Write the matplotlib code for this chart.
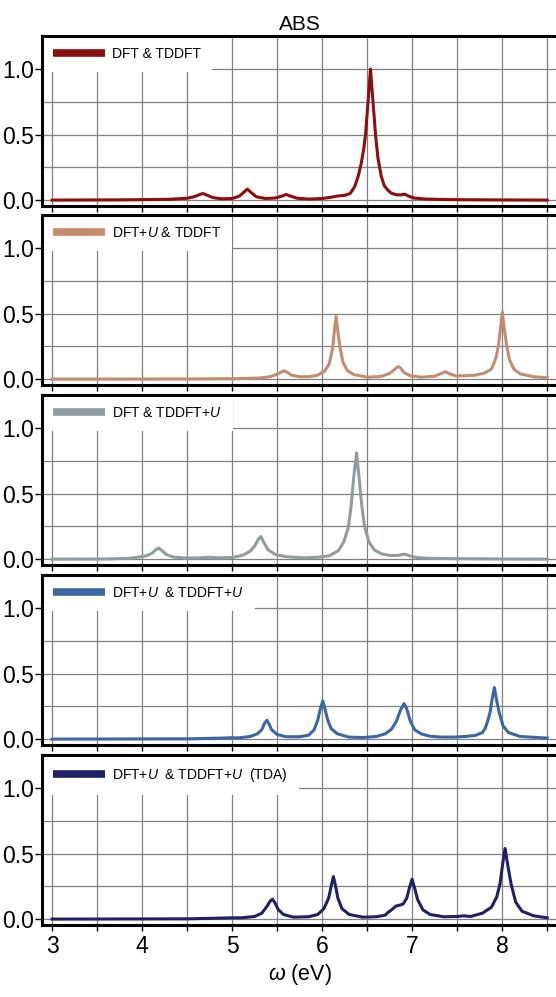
import matplotlib
matplotlib.use("Agg")
import matplotlib.pyplot as plt
from matplotlib.ticker import MultipleLocator

plt.rcParams['font.family'] = ['Liberation Sans', 'DejaVu Sans']
plt.rcParams['mathtext.fontset'] = 'custom'
plt.rcParams['mathtext.rm'] = 'Liberation Sans'
plt.rcParams['mathtext.it'] = 'Liberation Sans:italic'

title = "ABS"
xlabel = r"$\omega$ (eV)"
xticks = [3, 4, 5, 6, 7, 8]
yticks = [0.0, 0.5, 1.0]

labels = [
    "DFT & TDDFT",
    "DFT+$U$ & TDDFT",
    "DFT & TDDFT+$U$",
    "DFT+$U$  & TDDFT+$U$",
    "DFT+$U$  & TDDFT+$U$  (TDA)",
]
colors = ["#8E0D0D", "#C48C6E", "#8F9DA3", "#3B67A5", "#1E2069"]

# Panel 1: DFT & TDDFT
x1 = [3.0, 3.8, 4.3, 4.5, 4.58, 4.63, 4.676, 4.72, 4.78, 4.88, 5.0, 5.08, 5.13, 5.17, 5.21, 5.27,
      5.37, 5.48, 5.55, 5.60, 5.65, 5.72, 5.85, 6.0, 6.1, 6.18, 6.25, 6.31, 6.36, 6.40, 6.434, 6.46,
      6.482, 6.51, 6.537, 6.565, 6.593, 6.62, 6.657, 6.69, 6.731, 6.77, 6.83, 6.88, 6.916, 6.96,
      7.02, 7.15, 7.4, 7.8, 8.5]
y1 = [0.0, 0.002, 0.006, 0.014, 0.026, 0.040, 0.051, 0.038, 0.020, 0.010, 0.012, 0.030, 0.060, 0.084,
      0.058, 0.025, 0.012, 0.016, 0.030, 0.043, 0.030, 0.015, 0.008, 0.012, 0.022, 0.032, 0.036, 0.05,
      0.10, 0.18, 0.28, 0.38, 0.5, 0.75, 1.0, 0.75, 0.5, 0.32, 0.18, 0.11, 0.075, 0.052, 0.040, 0.040,
      0.046, 0.030, 0.016, 0.008, 0.004, 0.002, 0.0]

# Panel 2: DFT+U & TDDFT
x2 = [3.0, 4.5, 5.0, 5.3, 5.42, 5.5, 5.55, 5.579, 5.61, 5.66, 5.75, 5.85, 5.95, 6.03, 6.08, 6.118,
      6.135, 6.155, 6.175, 6.2, 6.23, 6.28, 6.35, 6.5, 6.65, 6.74, 6.8, 6.83, 6.85, 6.87, 6.91, 6.98,
      7.1, 7.25, 7.32, 7.37, 7.41, 7.48, 7.585, 7.7, 7.8, 7.88, 7.93, 7.958, 7.982, 8.002, 8.022,
      8.05, 8.08, 8.13, 8.2, 8.35, 8.5]
y2 = [0.0, 0.001, 0.003, 0.008, 0.018, 0.038, 0.055, 0.063, 0.052, 0.030, 0.018, 0.018, 0.030, 0.062,
      0.12, 0.24, 0.36, 0.477, 0.36, 0.24, 0.13, 0.065, 0.035, 0.015, 0.020, 0.040, 0.070, 0.088, 0.096,
      0.085, 0.050, 0.025, 0.015, 0.022, 0.042, 0.056, 0.042, 0.025, 0.025, 0.030, 0.045, 0.075, 0.16,
      0.256, 0.39, 0.51, 0.39, 0.256, 0.15, 0.075, 0.04, 0.018, 0.01]

# Panel 3: DFT & TDDFT+U
x3 = [3.0, 3.6, 3.85, 3.95, 4.02, 4.056, 4.11, 4.15, 4.185, 4.22, 4.27, 4.35, 4.5, 4.65, 4.742, 4.85,
      5.0, 5.12, 5.2, 5.25, 5.29, 5.319, 5.35, 5.4, 5.48, 5.6, 5.8, 5.95, 6.08, 6.18, 6.24, 6.29,
      6.322, 6.35, 6.382, 6.41, 6.441, 6.47, 6.52, 6.58, 6.66, 6.75, 6.84, 6.916, 6.97, 7.05, 7.2,
      7.5, 8.0, 8.5]
y3 = [0.0, 0.001, 0.006, 0.014, 0.022, 0.027, 0.045, 0.070, 0.084, 0.065, 0.035, 0.015, 0.008, 0.010,
      0.014, 0.010, 0.012, 0.03, 0.06, 0.10, 0.15, 0.172, 0.13, 0.07, 0.035, 0.018, 0.010, 0.014, 0.025,
      0.065, 0.13, 0.24, 0.405, 0.62, 0.81, 0.62, 0.405, 0.25, 0.13, 0.07, 0.04, 0.028, 0.028, 0.038,
      0.025, 0.012, 0.006, 0.003, 0.001, 0.0]

# Panel 4: DFT+U & TDDFT+U
x4 = [3.0, 4.5, 4.9, 4.98, 5.08, 5.2, 5.28, 5.33, 5.36, 5.386, 5.41, 5.438, 5.5, 5.6, 5.75, 5.85,
      5.91, 5.951, 5.98, 6.007, 6.035, 6.062, 6.1, 6.17, 6.3, 6.45, 6.6, 6.7, 6.77, 6.824, 6.87, 6.91,
      6.94, 6.98, 7.03, 7.1, 7.2, 7.3, 7.45, 7.585, 7.7, 7.78, 7.81, 7.84, 7.864, 7.89, 7.913, 7.94,
      7.968, 8.01, 8.07, 8.2, 8.5]
y4 = [0.0, 0.002, 0.008, 0.010, 0.010, 0.02, 0.04, 0.072, 0.12, 0.144, 0.115, 0.072, 0.035, 0.018,
      0.018, 0.03, 0.07, 0.145, 0.23, 0.291, 0.22, 0.145, 0.08, 0.04, 0.015, 0.012, 0.02, 0.04, 0.075,
      0.135, 0.22, 0.271, 0.23, 0.135, 0.07, 0.04, 0.022, 0.016, 0.015, 0.02, 0.028, 0.05, 0.08, 0.14,
      0.2, 0.31, 0.393, 0.29, 0.2, 0.10, 0.05, 0.02, 0.008]

# Panel 5: DFT+U & TDDFT+U (TDA)
x5 = [3.0, 4.5, 4.9, 5.0, 5.1, 5.25, 5.33, 5.39, 5.42, 5.449, 5.475, 5.51, 5.57, 5.68, 5.85, 5.95,
      6.02, 6.073, 6.1, 6.125, 6.15, 6.174, 6.22, 6.3, 6.45, 6.6, 6.7, 6.73, 6.77, 6.82, 6.86, 6.9,
      6.94, 6.97, 6.999, 7.03, 7.06, 7.12, 7.2, 7.35, 7.5, 7.567, 7.65, 7.78, 7.88, 7.94, 7.976,
      8.005, 8.032, 8.06, 8.098, 8.15, 8.22, 8.35, 8.5]
y5 = [0.0, 0.002, 0.008, 0.010, 0.010, 0.02, 0.045, 0.10, 0.135, 0.152, 0.125, 0.075, 0.035, 0.015,
      0.018, 0.035, 0.08, 0.162, 0.25, 0.324, 0.25, 0.162, 0.08, 0.035, 0.015, 0.018, 0.03, 0.05,
      0.07, 0.1, 0.106, 0.115, 0.16, 0.24, 0.304, 0.23, 0.15, 0.07, 0.035, 0.018, 0.02, 0.025, 0.02,
      0.045, 0.09, 0.17, 0.27, 0.42, 0.539, 0.42, 0.27, 0.13, 0.06, 0.025, 0.01]

xs = [x1, x2, x3, x4, x5]
ys = [y1, y2, y3, y4, y5]

W, H = 556, 997
fig = plt.figure(figsize=(W / 100, H / 100), dpi=100)

tops = [36, 215, 395, 575, 755]
ph = 170
left_px, right_px = 42, 558
axes = []
for i, top in enumerate(tops):
    ax = fig.add_axes([left_px / W, 1 - (top + ph) / H, (right_px - left_px) / W, ph / H])
    axes.append(ax)
    ax.plot(xs[i], ys[i], color=colors[i], lw=2.2, label=labels[i], zorder=3,
            solid_joinstyle='round')
    ax.set_xlim(2.888, 8.62)
    ax.set_ylim(-0.045, 1.252)
    ax.xaxis.set_major_locator(MultipleLocator(1))
    ax.xaxis.set_minor_locator(MultipleLocator(0.5))
    ax.set_yticks(yticks)
    ax.yaxis.set_minor_locator(MultipleLocator(0.25))
    ax.grid(True, which='both', color='#808080', lw=0.9, zorder=0)
    ax.set_axisbelow(True)
    for s in ax.spines.values():
        s.set_linewidth(2.2)
        s.set_color('black')
    ax.tick_params(axis='y', which='major', direction='out', length=5, width=1,
                   labelsize=16.5, pad=1, right=False)
    ax.tick_params(axis='y', which='minor', length=0)
    ax.tick_params(axis='x', which='both', direction='out', length=4, width=1,
                   labelsize=16.5, pad=3, top=False)
    ax.set_yticklabels(["0.0", "0.5", "1.0"])
    if i < 4:
        ax.tick_params(axis='x', which='both', labelbottom=False)
    else:
        ax.set_xticks(xticks)
        ax.set_xlabel(xlabel, fontsize=15.5, labelpad=3)
    leg = ax.legend(loc='upper left', bbox_to_anchor=(0.0, 1.0), borderaxespad=0.0,
                    fontsize=10, handlelength=3.7, handletextpad=0.55, borderpad=0.8,
                    frameon=True, fancybox=False, framealpha=1.0)
    leg.get_frame().set_facecolor('white')
    leg.get_frame().set_edgecolor('none')
    for lh in leg.get_lines():
        lh.set_linewidth(5.5)
        lh.set_solid_capstyle('butt')
    leg.set_zorder(2)

axes[0].set_title(title, fontsize=15, pad=4)

fig.savefig("out.png", dpi=100)
